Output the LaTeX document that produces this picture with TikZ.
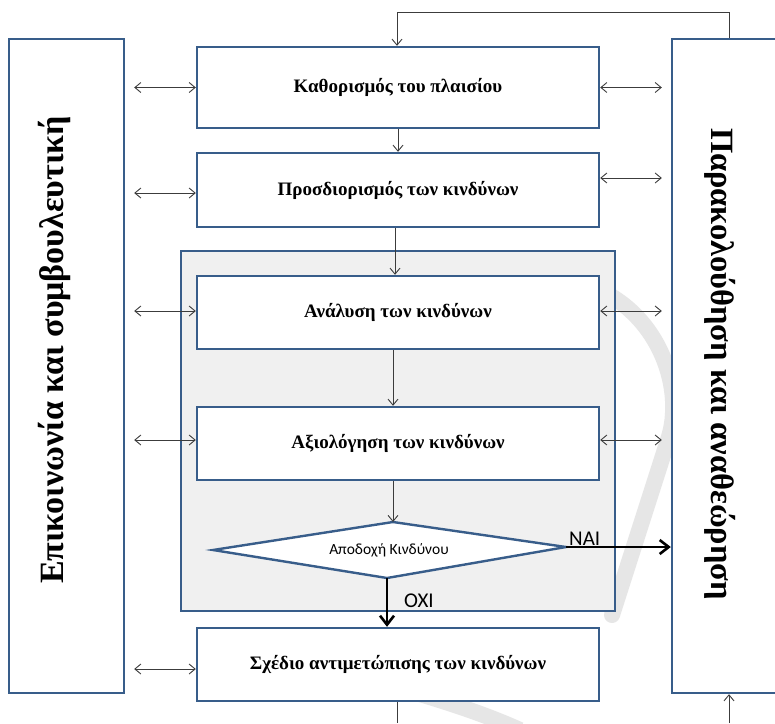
\documentclass[tikz,border=0pt]{standalone}
\usepackage{fontspec}
\setmainfont{Liberation Serif}
\newfontfamily\carlfont{Carlito}
\usetikzlibrary{arrows.meta}
\definecolor{boxblue}{RGB}{56,93,138}
\definecolor{panelgray}{RGB}{240,240,240}
\definecolor{linegray}{RGB}{60,60,60}
\definecolor{wmgray}{RGB}{230,230,230}
\tikzset{
  stepbox/.style={draw=boxblue, line width=2.4pt, fill=white, inner sep=0pt,
    font=\fontsize{19}{22}\selectfont\bfseries, align=center},
  sidebox/.style={draw=boxblue, line width=2.4pt, fill=white, inner sep=0pt},
  thinarrow/.style={draw=linegray, line width=0.9pt, -{Straight Barb[length=6pt,width=10pt]}},
  dblarrow/.style={draw=linegray, line width=0.9pt, {Straight Barb[length=6pt,width=10pt]}-{Straight Barb[length=6pt,width=10pt]}},
  thinline/.style={draw=linegray, line width=0.9pt},
  boldarrow/.style={draw=black, line width=2.6pt, -{Straight Barb[length=9pt,width=14pt,line width=2.6pt]}},
  sidetext/.style={font=\bfseries, inner sep=0pt},
  yesno/.style={font=\carlfont\fontsize{21}{24}\selectfont, inner sep=0pt}
}
\begin{document}
\begin{tikzpicture}[x=1pt,y=-1pt]
\useasboundingbox (0,0) rectangle (775,723);
\clip (0,0) rectangle (775,723);
\fill[white] (0,0) rectangle (775,723);
% faint watermark
\draw[wmgray, line width=16pt, line cap=round] (595,288) .. controls (660,315) and (685,390) .. (668,440) -- (612,615);
\draw[wmgray, line width=16pt] (400,688) .. controls (440,700) and (480,712) .. (520,730);

% side boxes
\node[sidebox, minimum width=115pt, minimum height=654pt] (L) at (66.5,366) {};
\node[sidebox, minimum width=114pt, minimum height=654pt] (R) at (729,366) {};
\node[sidetext, font=\fontsize{34}{38}\selectfont\bfseries, rotate=90, anchor=base] (Ltext) at (63,350) {Επικοινωνία και συμβουλευτική};
\node[sidetext, font=\fontsize{32.5}{36}\selectfont\bfseries, rotate=-90, anchor=base] (Rtext) at (711,364) {Παρακολούθηση και αναθεώρηση};

% grey panel
\node[draw=boxblue, line width=2.4pt, fill=panelgray, minimum width=434pt, minimum height=360pt, inner sep=0pt] (panel) at (398,431) {};

% step boxes
\node[stepbox, minimum width=402pt, minimum height=81pt] (b1) at (398,87.5) {Καθορισμός του πλαισίου};
\node[stepbox, minimum width=402pt, minimum height=74pt] (b2) at (398,190) {Προσδιορισμός των κινδύνων};
\node[stepbox, minimum width=402pt, minimum height=73pt] (b3) at (398,312.5) {Ανάλυση των κινδύνων};
\node[stepbox, minimum width=402pt, minimum height=73pt] (b4) at (398,443.5) {Αξιολόγηση των κινδύνων};
\node[stepbox, minimum width=402pt, minimum height=73pt] (b5) at (398,664.5) {Σχέδιο αντιμετώπισης των κινδύνων};

% decision diamond
\coordinate (dl) at (213,550);
\coordinate (dt) at (393,522);
\coordinate (dr) at (566,547);
\coordinate (db) at (387,578);
\draw[draw=boxblue, line width=2.4pt, fill=white, line join=miter] (dl) -- (dt) -- (dr) -- (db) -- cycle;
\node[font=\carlfont\fontsize{15.5}{18}\selectfont, inner sep=0pt] (dtext) at (389,550) {Αποδοχή Κινδύνου};

% vertical flow
\draw[thinarrow] (b1.south) -- (b2.north);
\draw[thinarrow] ([xshift=-3pt]b2.south) -- ([xshift=-3pt]b3.north);
\draw[thinarrow] ([xshift=-5pt]b3.south) -- ([xshift=-5pt]b4.north);
\draw[thinarrow] (b4.south -| dt) -- (dt);

% decision outcomes
\draw[boldarrow] (dr) -- (dr -| R.west);
\draw[boldarrow] (db) -- (db |- b5.north);
\node[yesno, anchor=base west] (yes) at (569,545) {ΝΑΙ};
\node[yesno, anchor=base west] (no) at (404,607) {ΟΧΙ};

% left double arrows
\draw[dblarrow, shorten >=9pt] (b1.west) -- (b1.west -| L.east);
\draw[dblarrow, shorten >=9pt] ([yshift=-3pt]b2.west) -- ([yshift=-3pt]b2.west -| L.east);
\draw[dblarrow, shorten >=9pt] ([yshift=1.5pt]b3.west) -- ([yshift=1.5pt]b3.west -| L.east);
\draw[dblarrow, shorten >=9pt] ([yshift=3.5pt]b4.west) -- ([yshift=3.5pt]b4.west -| L.east);
\draw[dblarrow, shorten >=9pt] ([yshift=-4.5pt]b5.west) -- ([yshift=-4.5pt]b5.west -| L.east);

% right double arrows
\draw[dblarrow, shorten >=9pt] (b1.east) -- (b1.east -| R.west);
\draw[dblarrow, shorten >=9pt] ([yshift=12pt]b2.east) -- ([yshift=12pt]b2.east -| R.west);
\draw[dblarrow, shorten >=9pt] ([yshift=1.5pt]b3.east) -- ([yshift=1.5pt]b3.east -| R.west);
\draw[dblarrow, shorten >=9pt] ([yshift=3.5pt]b4.east) -- ([yshift=3.5pt]b4.east -| R.west);

% feedback loop
\coordinate (bot) at (0,723);
\draw[thinarrow] (R.north) -- ++(0,-25) -| ([xshift=-1pt]b1.north);
\draw[thinline] ([xshift=-1pt]b5.south) -- ([xshift=-1pt]b5.south |- bot);
\draw[thinarrow] (R.south |- bot) -- (R.south);
\end{tikzpicture}
\end{document}
